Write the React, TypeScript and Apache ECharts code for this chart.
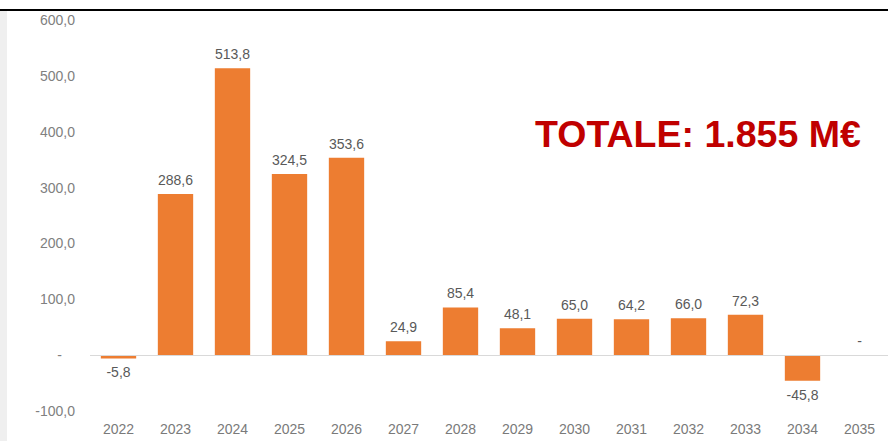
import React, { useEffect, useRef } from "react";
import * as echarts from "echarts";

const years = ["2022", "2023", "2024", "2025", "2026", "2027", "2028", "2029", "2030", "2031", "2032", "2033", "2034", "2035"];
const values = [-5.8, 288.6, 513.8, 324.5, 353.6, 24.9, 85.4, 48.1, 65.0, 64.2, 66.0, 72.3, -45.8, 0];
const totalText = "TOTALE: 1.855 M€";

const fmt = (v: number) => (v === 0 ? "-" : v.toFixed(1).replace(".", ","));
const FONT = "'Liberation Sans', Arial, sans-serif";

export default function App() {
  const ref = useRef<HTMLDivElement>(null);
  useEffect(() => {
    if (!ref.current) return;
    const chart = echarts.init(ref.current, undefined, { renderer: "svg" });
    chart.setOption({
      animation: false,
      backgroundColor: "#ffffff",
      textStyle: { fontFamily: FONT },
      grid: { left: 90, top: 20, width: 811, height: 391 },
      xAxis: {
        type: "category",
        data: years,
        position: "bottom",
        axisLine: { show: false, onZero: false },
        axisTick: { show: false },
        axisLabel: { color: "#7a7a7a", fontSize: 14, margin: 11, fontFamily: FONT },
      },
      yAxis: {
        type: "value",
        min: -100,
        max: 600,
        interval: 100,
        splitLine: { show: false },
        axisLine: { show: false },
        axisTick: { show: false },
        axisLabel: {
          color: "#808080",
          fontSize: 14,
          margin: 15,
          fontFamily: FONT,
          formatter: (v: number) => (v === 0 ? "{z|-}" : fmt(v)),
          rich: { z: { color: "#808080", fontSize: 14, padding: [0, 13, 0, 0] } },
        },
      },
      series: [
        {
          type: "bar",
          barWidth: "62%",
          itemStyle: { color: "#ED7D31" },
          data: values.map((v) => ({
            value: v,
            label: { position: v < 0 ? "bottom" : "top" },
          })),
          label: {
            show: true,
            distance: 7,
            color: "#595959",
            fontSize: 14,
            fontFamily: FONT,
            formatter: (p: any) => fmt(p.value),
          },
          markLine: {
            silent: true,
            symbol: "none",
            label: { show: false },
            lineStyle: { color: "#d9d9d9", type: "solid", width: 1 },
            data: [{ yAxis: 0 }],
          },
        },
      ],
      graphic: [
        { type: "rect", left: 0, top: 9, shape: { width: 888, height: 2 }, style: { fill: "#000000" } },
        { type: "rect", left: 0, top: 11, shape: { width: 7, height: 430 }, style: { fill: "#efefef" } },
        {
          type: "text",
          x: 535,
          y: 134,
          style: {
            text: totalText,
            fill: "#C00000",
            font: `bold 37.5px ${FONT}`,
            verticalAlign: "middle",
            align: "left",
          },
        },
      ],
    });
    return () => chart.dispose();
  }, []);
  return <div ref={ref} style={{ position: "absolute", left: 0, top: 0, width: 888, height: 441 }} />;
}
